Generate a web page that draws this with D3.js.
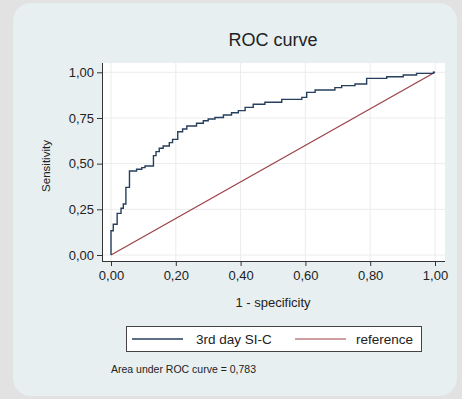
<!DOCTYPE html>
<html lang="en">
  <head>
    <meta charset="UTF-8" />
    <title>ROC curve</title>
    <style>
      body { margin: 0; background: #e2e2e2; }
      svg { display: block; font-family: "Liberation Sans", Arial, sans-serif; }
    </style>
  </head>
  <body>
    <svg></svg>
    <script src="https://d3js.org/d3.v7.min.js"></script>
    <script>
      // ROC points (1 - specificity, sensitivity)
      const fpr = [0, 0, 0.007, 0.019, 0.031, 0.038, 0.046, 0.057, 0.079, 0.095, 0.105, 0.131, 0.139, 0.149,
        0.161, 0.180, 0.190, 0.206, 0.221, 0.234, 0.264, 0.285, 0.300, 0.321, 0.347, 0.372, 0.393, 0.414,
        0.439, 0.475, 0.527, 0.589, 0.604, 0.630, 0.691, 0.712, 0.753, 0.789, 0.851, 0.902, 0.943, 0.995, 1];
      const tpr = [0, 0.133, 0.168, 0.228, 0.256, 0.279, 0.370, 0.460, 0.469, 0.478, 0.487, 0.544, 0.566, 0.584,
        0.597, 0.615, 0.633, 0.675, 0.690, 0.706, 0.721, 0.735, 0.744, 0.753, 0.766, 0.779, 0.790, 0.808,
        0.825, 0.836, 0.852, 0.863, 0.890, 0.903, 0.916, 0.927, 0.936, 0.967, 0.976, 0.985, 0.994, 1.0, 1.0];
      const refLine = [0, 1];
      const xTicks = [0, 0.2, 0.4, 0.6, 0.8, 1];
      const yTicks = [0, 0.25, 0.5, 0.75, 1];
      const seriesNames = ["3rd day SI-C", "reference"];
      const aucText = "Area under ROC curve = 0,783";

      const width = 462, height = 399;
      const navy = "#263f5c", maroon = "#9b3f47";
      const fmt = (d) => d3.format(".2f")(d).replace(".", ",");

      const svg = d3.select("svg").attr("width", width).attr("height", height);

      svg.append("rect").attr("x", 13).attr("y", 3).attr("width", 444).attr("height", 393)
        .attr("rx", 18).attr("fill", "#e7eff1");

      const x = d3.scaleLinear().domain([0, 1]).range([111, 435]);
      const y = d3.scaleLinear().domain([0, 1]).range([255, 72.3]);

      // plot region
      svg.append("rect").attr("x", 102).attr("y", 63).attr("width", 343).attr("height", 198).attr("fill", "#fff");

      svg.append("g").selectAll("line").data(xTicks).join("line")
        .attr("x1", (d) => x(d)).attr("x2", (d) => x(d)).attr("y1", 63).attr("y2", 261)
        .attr("stroke", "#ececec").attr("stroke-width", 1);
      svg.append("g").selectAll("line").data(yTicks).join("line")
        .attr("x1", 102).attr("x2", 445).attr("y1", (d) => y(d)).attr("y2", (d) => y(d))
        .attr("stroke", "#ececec").attr("stroke-width", 1);

      // axes
      const xAxis = svg.append("g").attr("transform", "translate(0,261)")
        .call(d3.axisBottom(x).tickValues(xTicks).tickFormat(fmt).tickSize(5).tickPadding(5));
      xAxis.select(".domain").attr("d", "M102,0.5H445");
      const yAxis = svg.append("g").attr("transform", "translate(102,0)")
        .call(d3.axisLeft(y).tickValues(yTicks).tickFormat(fmt).tickSize(5).tickPadding(3));
      yAxis.select(".domain").attr("d", "M0.5,63V261");
      svg.selectAll(".tick text").attr("font-size", 13).attr("fill", "#222").attr("font-family", null);
      svg.selectAll(".tick line, .domain").attr("stroke", "#333");

      // reference diagonal
      svg.append("line")
        .attr("x1", x(refLine[0])).attr("y1", y(refLine[0]))
        .attr("x2", x(refLine[1])).attr("y2", y(refLine[1]))
        .attr("stroke", maroon).attr("stroke-width", 1.2);

      // ROC curve
      const pts = fpr.map((d, i) => [d, tpr[i]]);
      svg.append("path").datum(pts)
        .attr("d", d3.line().x((d) => x(d[0])).y((d) => y(d[1])).curve(d3.curveStepAfter))
        .attr("fill", "none").attr("stroke", navy).attr("stroke-width", 1.4);

      // titles
      svg.append("text").attr("x", 273).attr("y", 46).attr("text-anchor", "middle")
        .attr("font-size", 18).attr("fill", "#222").text("ROC curve");
      svg.append("text").attr("transform", "translate(50,166) rotate(-90)").attr("text-anchor", "middle")
        .attr("font-size", 11.5).attr("fill", "#222").text("Sensitivity");
      svg.append("text").attr("x", 273).attr("y", 307).attr("text-anchor", "middle")
        .attr("font-size", 13).attr("fill", "#222").text("1 - specificity");

      // legend
      const leg = svg.append("g");
      leg.append("rect").attr("x", 126.5).attr("y", 326.5).attr("width", 295).attr("height", 25)
        .attr("fill", "#fff").attr("stroke", "#444");
      leg.append("line").attr("x1", 132).attr("x2", 183).attr("y1", 339).attr("y2", 339)
        .attr("stroke", navy).attr("stroke-width", 1.4);
      leg.append("text").attr("x", 196).attr("y", 344).attr("font-size", 13.5).attr("fill", "#222").text(seriesNames[0]);
      leg.append("line").attr("x1", 295).attr("x2", 346).attr("y1", 339).attr("y2", 339)
        .attr("stroke", maroon).attr("stroke-width", 1.2);
      leg.append("text").attr("x", 413).attr("y", 344).attr("text-anchor", "end")
        .attr("font-size", 13.5).attr("fill", "#222").text(seriesNames[1]);

      svg.append("text").attr("x", 111).attr("y", 373).attr("font-size", 10.5).attr("fill", "#222").text(aucText);
    </script>
  </body>
</html>
